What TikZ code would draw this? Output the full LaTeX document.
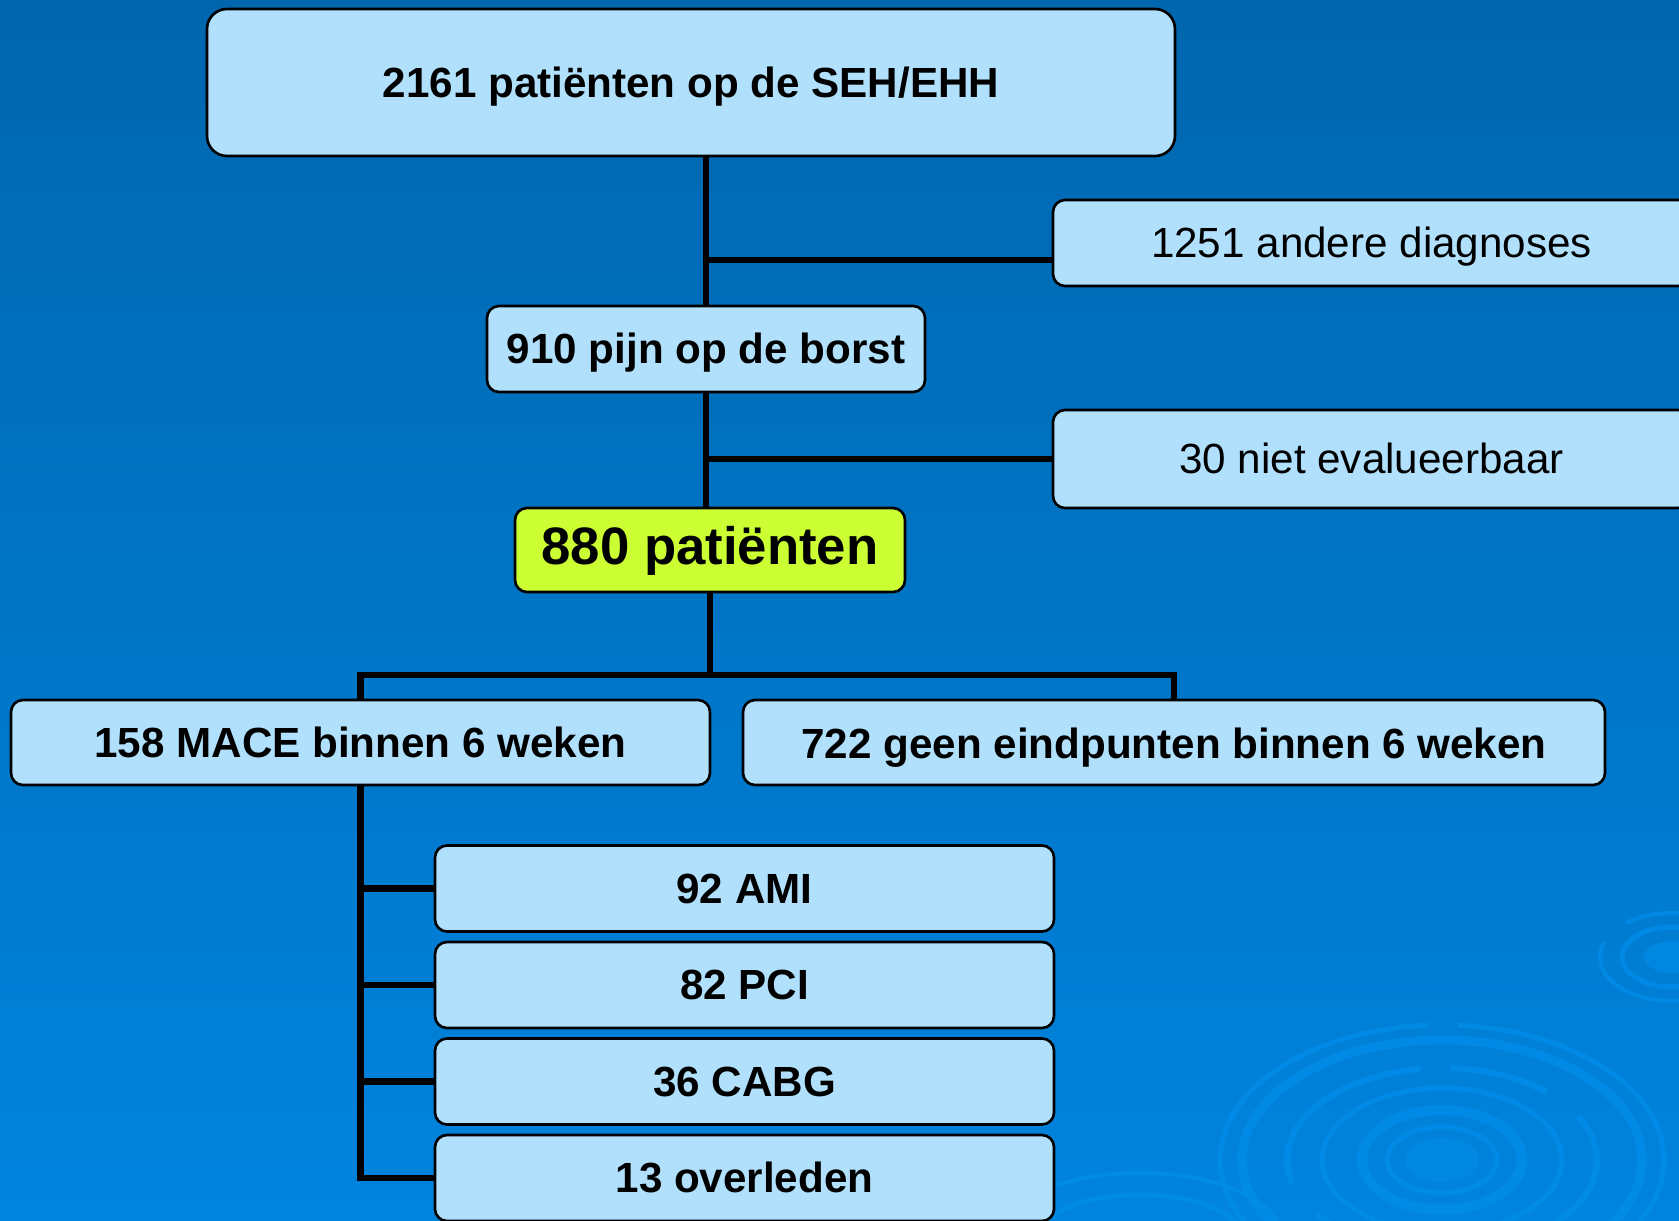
\documentclass[tikz,border=0pt]{standalone}
\usepackage{fontspec}
\setmainfont{Liberation Sans}
\usepackage{xcolor}
\usepackage{tikz}
\definecolor{bgtop}{RGB}{0,102,174}
\definecolor{bgbottom}{RGB}{0,132,222}
\definecolor{boxblue}{RGB}{176,224,252}
\definecolor{limegreen}{RGB}{204,255,51}
\definecolor{ripple}{RGB}{0,142,234}

\begin{document}
\begin{tikzpicture}[x=1cm, y=-1cm]
    \tikzstyle{box} = [rectangle, rounded corners=0.12cm, draw=black, line width=0.75pt, fill=boxblue, inner sep=0pt, text centered, text height=1.6ex, text depth=0pt, font=\fontsize{12}{14}\selectfont\bfseries]
    \tikzstyle{plainbox} = [box, font=\fontsize{12}{14}\selectfont]
    \tikzstyle{childbox} = [box, minimum width=6.19cm, minimum height=0.86cm]
    \tikzstyle{link} = [draw=black, line width=1.8pt]
    \tikzstyle{wave} = [draw=ripple, opacity=0.75]

    % background with ripples
    \clip (0,0) rectangle (16.79,12.21);
    \shade [top color=bgtop, bottom color=bgbottom] (0,0) rectangle (16.79,12.21);
    \draw [wave, line width=0.05cm, dash pattern=on 3cm off 0.4cm on 5cm off 0.3cm] (14.42,11.60) ellipse [x radius=2.22, y radius=1.35];
    \draw [wave, line width=0.09cm] (14.42,11.60) ellipse [x radius=2.00, y radius=1.20];
    \draw [wave, line width=0.06cm, dash pattern=on 2cm off 0.3cm on 1cm off 0.4cm] (14.42,11.60) ellipse [x radius=1.55, y radius=0.92];
    \draw [wave, line width=0.05cm] (14.42,11.60) ellipse [x radius=1.20, y radius=0.72];
    \draw [wave, line width=0.10cm] (14.42,11.60) ellipse [x radius=0.80, y radius=0.50];
    \draw [wave, line width=0.05cm] (14.42,11.60) ellipse [x radius=0.55, y radius=0.33];
    \fill [ripple, opacity=0.5] (14.42,11.60) ellipse [x radius=0.37, y radius=0.22];
    \draw [wave, line width=0.04cm, dash pattern=on 2cm off 0.3cm] (16.72,9.57) ellipse [x radius=0.72, y radius=0.44];
    \draw [wave, line width=0.05cm] (16.72,9.57) ellipse [x radius=0.50, y radius=0.30];
    \fill [ripple, opacity=0.6] (16.72,9.57) ellipse [x radius=0.28, y radius=0.16];
    \draw [wave, line width=0.05cm] (11.40,12.35) ellipse [x radius=1.00, y radius=0.40];
    \draw [wave, line width=0.04cm] (11.40,12.35) ellipse [x radius=1.40, y radius=0.62];

    % flow boxes
    \node [box, rounded corners=0.2cm, minimum width=9.68cm, minimum height=1.47cm] (total) at (6.91,0.825) {2161 patiënten op de SEH/EHH};
    \node [plainbox, minimum width=6.37cm, minimum height=0.86cm] (other) at (13.715,2.43) {1251 andere diagnoses};
    \node [box, minimum width=4.38cm, minimum height=0.86cm] (chest) at (7.06,3.49) {910 pijn op de borst};
    \node [plainbox, minimum width=6.37cm, minimum height=0.98cm] (noteval) at (13.715,4.59) {30 niet evalueerbaar};
    \node [box, fill=limegreen, minimum width=3.90cm, minimum height=0.84cm, font=\fontsize{15}{18}\selectfont\bfseries] (included) at (7.10,5.50) {880 patiënten};
    \node [box, minimum width=6.99cm, minimum height=0.85cm] (mace) at (3.605,7.425) {158 MACE binnen 6 weken};
    \node [box, minimum width=8.62cm, minimum height=0.85cm, text height=1.75ex] (noend) at (11.74,7.425) {722 geen eindpunten binnen 6 weken};
    \node [childbox] (ami) at (7.445,8.885) {92 AMI};
    \node [childbox] (pci) at (7.445,9.85) {82 PCI};
    \node [childbox] (cabg) at (7.445,10.815) {36 CABG};
    \node [childbox] (died) at (7.445,11.78) {13 overleden};

    % connectors
    \coordinate (otherjoin) at ([yshift=-0.17cm]other.west);
    \coordinate (fork) at (7.10,6.75);
    \draw [link] (total.south -| chest.north) -- (chest.north);
    \draw [link] (otherjoin) -- (otherjoin -| chest.north);
    \draw [link] (noteval.west) -- (noteval.west -| chest.north);
    \draw [link] (chest.south) -- (chest.south |- included.north);
    \draw [link] (included.south) -- (fork);
    \draw [link] (mace.north) |- (fork) -| (noend.north);
    \draw [link] (mace.south) |- (died.west);
    \foreach \n in {ami,pci,cabg}
        \draw [link] (\n.west) -- (\n.west -| mace.south);
\end{tikzpicture}
\end{document}
